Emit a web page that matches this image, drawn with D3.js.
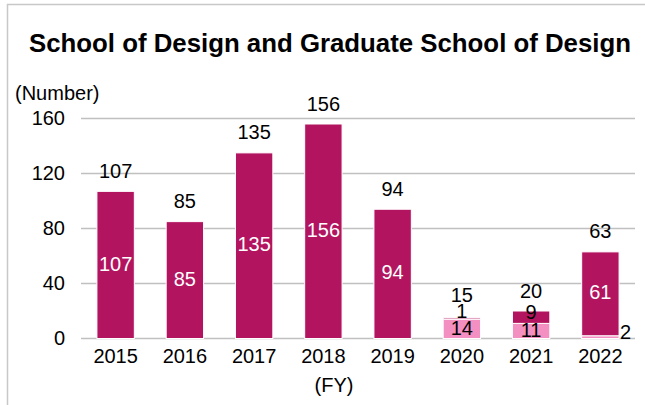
<!DOCTYPE html>
<html><head><meta charset="utf-8">
<script src="https://cdn.jsdelivr.net/npm/d3@7/dist/d3.min.js"></script>
<style>body{margin:0;background:#fff}svg{display:block;font-family:"Liberation Sans",Arial,sans-serif}</style>
</head><body><svg id="c" width="645" height="405"></svg>
<script>
const years = ["2015","2016","2017","2018","2019","2020","2021","2022"];
const graduate = [0,0,0,0,0,14,11,2];      // light pink (bottom)
const undergrad = [107,85,135,156,94,1,9,61]; // dark magenta (top)
const totals = [107,85,135,156,94,15,20,63];
const yTicks = [0,40,80,120,160];
const title = "School of Design and Graduate School of Design";

const svg = d3.select("#c");
const W = 645, H = 405;
const plot = {left:81, right:635, top:118.5, bottom:338.5};
const dark = "#B3145F", pink = "#F48FC2";
const FS = 20;

// chart border
svg.append("path").attr("d",`M7.5,${H} V4.5 H${W}`).attr("fill","none").attr("stroke","#c8c8c8").attr("stroke-width",1.5);

svg.append("text").attr("x",330).attr("y",52).attr("text-anchor","middle")
  .attr("font-weight","bold").attr("font-size",25.8).attr("fill","#000").text(title);

const x = d3.scaleBand().domain(years).range([plot.left,plot.right]).paddingInner(0.46).paddingOuter(0.23);
const y = d3.scaleLinear().domain([0,160]).range([plot.bottom,plot.top]);

// grid
svg.append("g").selectAll("line").data(yTicks).join("line")
  .attr("x1",plot.left).attr("x2",plot.right)
  .attr("y1",d=>y(d)).attr("y2",d=>y(d))
  .attr("stroke","#c0c0c0").attr("stroke-width",1.5);

const yAxis = d3.axisLeft(y).tickValues(yTicks).tickSize(0).tickPadding(16);
const gy = svg.append("g").attr("transform",`translate(${plot.left},0)`).call(yAxis);
gy.select(".domain").remove();
gy.selectAll("text").attr("font-size",FS).attr("fill","#000").attr("font-family","Liberation Sans, Arial, sans-serif");

const xAxis = d3.axisBottom(x).tickSize(0).tickPadding(10.5);
const gx = svg.append("g").attr("transform",`translate(0,${plot.bottom})`).call(xAxis);
gx.select(".domain").remove();
gx.selectAll("text").attr("font-size",FS).attr("fill","#000").attr("font-family","Liberation Sans, Arial, sans-serif");

svg.append("text").attr("x",15).attr("y",100).attr("font-size",FS).text("(Number)");
svg.append("text").attr("x",334).attr("y",392).attr("text-anchor","middle").attr("font-size",FS).text("(FY)");

// stacked bars
const rows = years.map((yr,i)=>({yr,g:graduate[i],u:undergrad[i],t:totals[i]}));
const bars = svg.append("g");
rows.forEach(r=>{
  if (r.g>0) bars.append("rect").attr("x",x(r.yr)).attr("width",x.bandwidth())
    .attr("y",y(r.g)).attr("height",y(0)-y(r.g)).attr("fill",pink).attr("stroke","#fff").attr("stroke-width",1);
  bars.append("rect").attr("x",x(r.yr)).attr("width",x.bandwidth())
    .attr("y",y(r.g+r.u)).attr("height",y(r.g)-y(r.g+r.u)).attr("fill",dark).attr("stroke","#fff").attr("stroke-width",1);
});

// labels
const lab = svg.append("g").attr("font-size",FS).attr("text-anchor","middle");
rows.forEach(r=>{
  const cx = x(r.yr)+x.bandwidth()/2;
  const topY = y(r.t);
  if (r.g>0) {
    const h = y(0)-y(r.g);
    if (h>=10) lab.append("text").attr("x",cx).attr("y",(y(0)+y(r.g))/2).attr("dy","0.32em").attr("fill","#000").text(r.g);
    else lab.append("text").attr("x",x(r.yr)+x.bandwidth()+1).attr("y",y(0)).attr("text-anchor","start").attr("fill","#000").text(r.g);
  }
  const hu = y(r.g)-y(r.g+r.u);
  let totalBase = topY-13.5;
  if (hu>=10) {
    lab.append("text").attr("x",cx).attr("y",(y(r.g)+y(r.g+r.u))/2).attr("dy", hu<16 ? "0.1em" : "0.28em")
      .attr("fill", r.u<20 ? "#000" : "#fff").text(r.u);
  } else {
    lab.append("text").attr("x",cx).attr("y",y(r.g+r.u)).attr("fill","#000").text(r.u);
    totalBase = y(r.g+r.u)-16.2;
  }
  lab.append("text").attr("x",cx).attr("y",totalBase).attr("fill","#000").text(r.t);
});
</script></body></html>
